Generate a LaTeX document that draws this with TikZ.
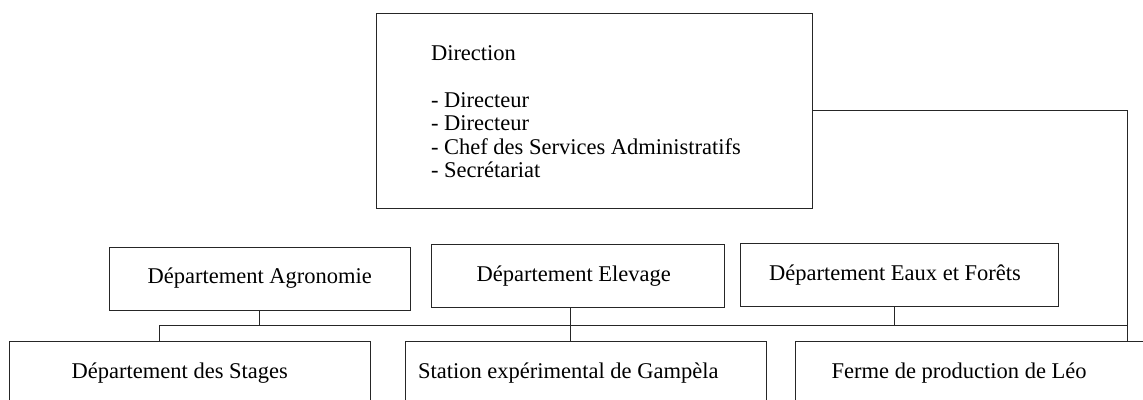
\documentclass[tikz,border=0pt]{standalone}
\usepackage{fontspec}
\setmainfont{Liberation Serif}
\newcommand{\lblfont}{\fontsize{22.5}{23.5}\selectfont}
\begin{document}
\begin{tikzpicture}[x=1pt,y=-1pt,
  box/.style={draw=black!85,line width=0.9pt,inner sep=0pt,outer sep=0pt,font=\lblfont,text=black},
  txt/.style={anchor=base west,inner sep=0pt,outer sep=0pt,font=\lblfont,text=black},
  conn/.style={draw=black!85,line width=0.9pt}]
\useasboundingbox (0,0) rectangle (1143,399);
\path[clip] (0,0) rectangle (1143,399);
% Direction box
\node[box,minimum width=436pt,minimum height=195pt] (dir) at (594,110.5) {};
\node[txt] (d1) at (431,60) {Direction};
\node[txt] (d2) at (431,107) {- Directeur};
\node[txt] (d3) at (431,130.5) {- Directeur};
\node[txt] (d4) at (431,154) {- Chef des Services Administratifs};
\node[txt] (d5) at (431,177.5) {- Secrétariat};
% departments
\node[box,minimum width=300.5pt,minimum height=63pt] (agro) at (259.75,278.5) {Département Agronomie};
\node[box,minimum width=292.5pt,minimum height=63pt] (elev) at (577.75,276) {\hspace*{-8pt}Département Elevage};
\node[box,minimum width=318pt,minimum height=62.5pt] (eaux) at (899,274.75) {\hspace*{-8pt}Département Eaux et Forêts};
% bottom boxes (cut by the page edge)
\node[box,minimum width=361pt,minimum height=100pt] (stages) at (190,391) {};
\node[box,minimum width=361pt,minimum height=100pt] (station) at (585.5,391) {};
\node[box,minimum width=405pt,minimum height=100pt] (ferme) at (997.5,391) {};
\node[txt] (t1) at (71.7,378.5) {Département des Stages};
\node[txt] (t2) at (418,378.5) {Station expérimental de Gampèla};
\node[txt] (t3) at (831.7,378.5) {Ferme de production de Léo};
% connectors
\coordinate (busL) at (159,325);
\coordinate (busR) at (1127,325);
\draw[conn] (busL) -- (busR);
\draw[conn] (agro.south) -- (agro.south |- busL);
\draw[conn] (busL) -- (busL |- stages.north);
\draw[conn] ([xshift=-7pt]elev.south) -- ([xshift=-7pt]elev.south |- station.north);
\draw[conn] ([xshift=-5pt]eaux.south) -- ([xshift=-5pt]eaux.south |- busL);
\draw[conn] (dir.east) -| (busR |- ferme.north);
\end{tikzpicture}
\end{document}
